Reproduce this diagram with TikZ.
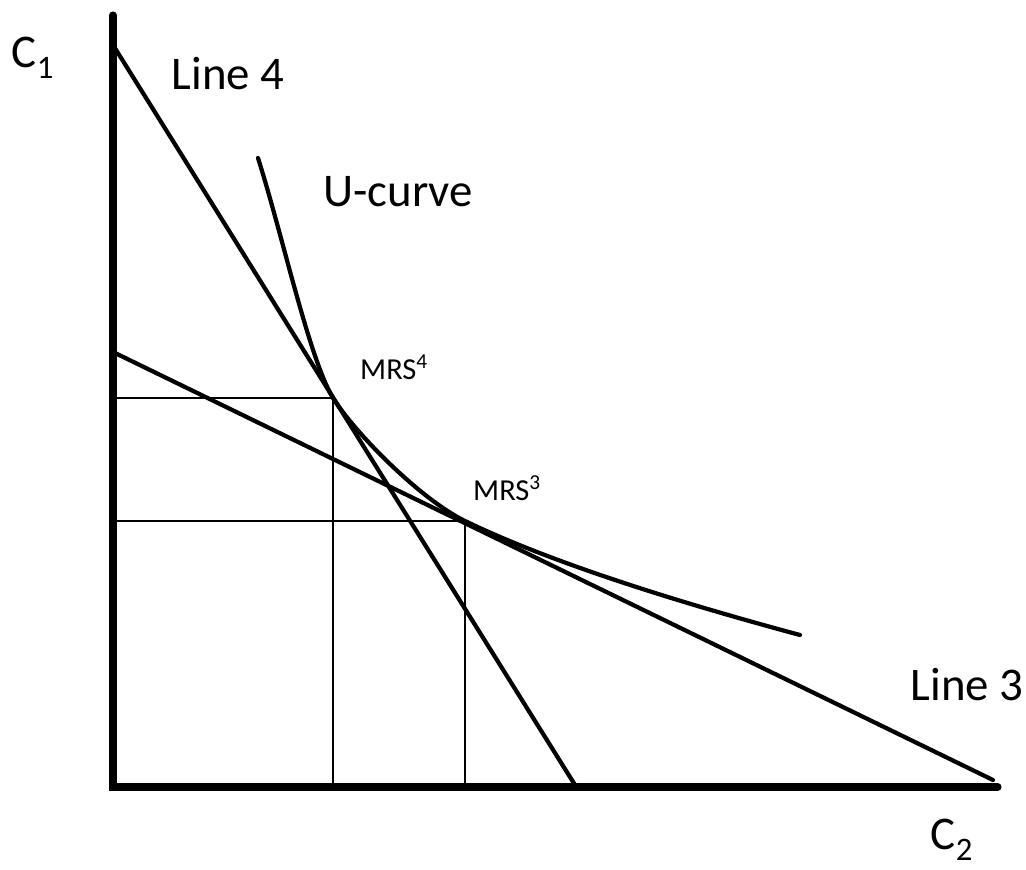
\documentclass[tikz,border=0pt]{standalone}
\usepackage{fontspec}
\setmainfont{Carlito}
\usepackage{tikz}
\usetikzlibrary{positioning,calc}

\tikzset{
  axis/.style={line width=6pt, line cap=round},
  budget/.style={line width=3.6pt, line cap=round},
  guide/.style={line width=2.4pt},
  bigtext/.style={font=\fontsize{40}{48}\selectfont, inner sep=0pt},
  smalltext/.style={font=\fontsize{26}{31}\selectfont, inner sep=0pt},
}

\begin{document}
\begin{tikzpicture}[x=0.3mm,y=-0.3mm]
    \useasboundingbox (0,0) rectangle (1026,869);
    % axes
    \coordinate (O) at (113,787);
    \coordinate (ytop) at (113,15);
    \coordinate (xend) at (998,787);
    \draw[axis] (ytop) -- (O) -- (xend);
    % budget lines
    \coordinate (l4top) at (113,45);
    \coordinate (l4bot) at (575,785);
    \coordinate (l3top) at (113,352);
    \coordinate (l3bot) at (993,780);
    \draw[budget] (l4top) -- (l4bot);
    \draw[budget] (l3top) -- (l3bot);
    % tangency points
    \coordinate (mrsfour) at (333,398);
    \coordinate (mrsthree) at (465,521);
    \draw[guide] (113,398) -- (mrsfour) -- (333,787);
    \draw[guide] (113,521) -- (mrsthree) -- (465,787);
    % indifference curve
    \coordinate (ustart) at (258,158);
    \coordinate (uend) at (800,635);
    \draw[budget] (ustart) .. controls (283,237) and (309,358) .. (mrsfour)
        .. controls (355,433) and (420,499) .. (mrsthree)
        .. controls (560,567) and (700,608) .. (uend);
    % labels
    \node[bigtext] (cone) at (33,58) {C\textsubscript{1}};
    \node[bigtext] (lfour) at (228,74) {Line 4};
    \node[bigtext] (ucurve) at (398,192) {U-curve};
    \node[smalltext] (mfour) at (394,367) {MRS\textsuperscript{4}};
    \node[smalltext] (mthree) at (507,488) {MRS\textsuperscript{3}};
    \node[bigtext] (lthree) at (967,685) {Line 3};
    \node[bigtext] (ctwo) at (952,840) {C\textsubscript{2}};
\end{tikzpicture}
\end{document}
